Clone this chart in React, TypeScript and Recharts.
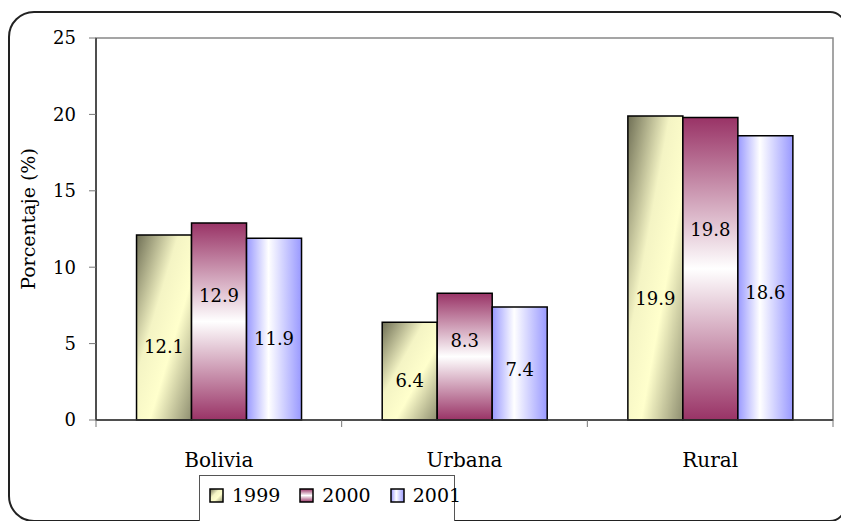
import { BarChart, Bar, XAxis, YAxis, Legend, LabelList, ReferenceArea, Label } from "recharts";

const CATEGORIES = ["Bolivia", "Urbana", "Rural"];
const YEARS = ["1999", "2000", "2001"];
const VALUES_1999 = [12.1, 6.4, 19.9];
const VALUES_2000 = [12.9, 8.3, 19.8];
const VALUES_2001 = [11.9, 7.4, 18.6];
const Y_TICKS = [0, 5, 10, 15, 20, 25];

const DATA = CATEGORIES.map((name, i) => ({
  name,
  y1999: VALUES_1999[i],
  y2000: VALUES_2000[i],
  y2001: VALUES_2001[i],
}));

const FONT = "'DejaVu Serif', serif";
const W = 841;
const H = 521;
const PLOT_LEFT = 96;
const PLOT_RIGHT = 8;
const BAND = (W - PLOT_LEFT - PLOT_RIGHT) / CATEGORIES.length;
const LEGEND_H = 60;

// where the value label sits inside each bar (fraction from the top)
const SERIES = [
  { key: "y1999", name: YEARS[0], grad: "g1999", labelAt: 0.6 },
  { key: "y2000", name: YEARS[1], grad: "g2000", labelAt: 0.37 },
  { key: "y2001", name: YEARS[2], grad: "g2001", labelAt: 0.55 },
];

function Gradients({ prefix }: { prefix: string }) {
  return (
    <defs>
      <linearGradient id={prefix + "g1999"} x1="0" y1="0" x2="1" y2="1">
        <stop offset="0%" stopColor="#6f6f55" />
        <stop offset="38%" stopColor="#f4f4c4" />
        <stop offset="62%" stopColor="#ffffcc" />
        <stop offset="100%" stopColor="#8e8e70" />
      </linearGradient>
      <linearGradient id={prefix + "g2000"} x1="0" y1="0" x2="0" y2="1">
        <stop offset="0%" stopColor="#993366" />
        <stop offset="50%" stopColor="#ffffff" />
        <stop offset="100%" stopColor="#993366" />
      </linearGradient>
      <linearGradient id={prefix + "g2001"} x1="0" y1="0" x2="1" y2="0">
        <stop offset="0%" stopColor="#9999ff" />
        <stop offset="40%" stopColor="#ffffff" />
        <stop offset="100%" stopColor="#9999ff" />
      </linearGradient>
    </defs>
  );
}

const makeLabel = (frac: number) => (props: any) => {
  const { x, y, width, height, value } = props;
  return (
    <text
      x={x + width / 2}
      y={y + height * frac}
      textAnchor="middle"
      dominantBaseline="central"
      fontFamily={FONT}
      fontSize={18}
      fill="#000"
    >
      {value}
    </text>
  );
};

function CatTick(props: any) {
  const { x, y, payload, index } = props;
  const left = x - BAND / 2;
  const right = x + BAND / 2;
  return (
    <g>
      <line x1={left} x2={left} y1={y} y2={y + 7} stroke="#777" />
      {index === CATEGORIES.length - 1 && (
        <line x1={right} x2={right} y1={y} y2={y + 7} stroke="#777" />
      )}
      <text x={x} y={y + 47} textAnchor="middle" fontFamily={FONT} fontSize={20} fill="#000">
        {payload.value}
      </text>
    </g>
  );
}

function LegendBox() {
  return (
    <div
      style={{
        border: "1px solid #555",
        background: "#fff",
        height: LEGEND_H,
        boxSizing: "border-box",
        fontFamily: FONT,
        fontSize: 19,
      }}
    >
      <div style={{ display: "flex", alignItems: "center", height: 38, paddingLeft: 9 }}>
        {SERIES.map((s) => (
          <div key={s.key} style={{ display: "flex", alignItems: "center", marginRight: 19 }}>
            <svg width={15} height={15} style={{ marginRight: 8 }}>
              <Gradients prefix={"lg" + s.key} />
              <rect x={1} y={1} width={13} height={13} fill={`url(#lg${s.key}${s.grad})`} stroke="#000" strokeWidth={1.5} />
            </svg>
            <span>{s.name}</span>
          </div>
        ))}
      </div>
    </div>
  );
}

export default function App() {
  return (
    <div style={{ position: "absolute", left: 0, top: 0, width: W, height: H, overflow: "hidden", background: "#fff" }}>
      <div
        style={{
          position: "absolute",
          left: 8,
          top: 11,
          width: 838,
          height: 511,
          boxSizing: "border-box",
          border: "2px solid #222",
          borderTopLeftRadius: 26,
          borderBottomLeftRadius: 26,
          borderTopRightRadius: 16,
          borderBottomRightRadius: 16,
        }}
      />
      <BarChart
        width={W}
        height={H}
        data={DATA}
        margin={{ top: 38, right: PLOT_RIGHT, left: 0, bottom: 61 - LEGEND_H }}
        barCategoryGap="16.5%"
        barGap={0}
      >
        <Gradients prefix="" />
        <ReferenceArea y1={0} y2={25} fill="none" stroke="#888" strokeWidth={1.5} />
        <XAxis
          dataKey="name"
          height={40}
          interval={0}
          tickLine={false}
          tickSize={0}
          tickMargin={0}
          axisLine={{ stroke: "#333", strokeWidth: 1.5 }}
          tick={<CatTick />}
        />
        <YAxis
          width={PLOT_LEFT}
          domain={[0, 25]}
          ticks={Y_TICKS}
          interval={0}
          tickSize={7}
          tickMargin={13}
          axisLine={{ stroke: "#333", strokeWidth: 1.5 }}
          tickLine={{ stroke: "#777" }}
          tick={{ fontSize: 18, fill: "#000", fontFamily: FONT }}
        >
          <Label
            value="Porcentaje (%)"
            angle={-90}
            position="center"
            dx={-20}
            dy={-10}
            style={{ fontSize: 19, fill: "#000", fontFamily: FONT }}
          />
        </YAxis>
        <Legend
          layout="vertical"
          align="center"
          verticalAlign="bottom"
          content={() => <LegendBox />}
          wrapperStyle={{ left: 199, top: 475, width: 256, bottom: "auto" }}
        />
        {SERIES.map((s) => (
          <Bar
            key={s.key}
            dataKey={s.key}
            name={s.name}
            fill={`url(#${s.grad})`}
            stroke="#000"
            strokeWidth={1.5}
            isAnimationActive={false}
          >
            <LabelList dataKey={s.key} content={makeLabel(s.labelAt)} />
          </Bar>
        ))}
      </BarChart>
    </div>
  );
}
